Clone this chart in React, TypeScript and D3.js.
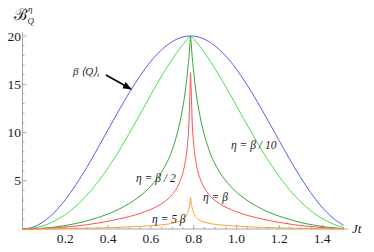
import React from "react";
import * as d3 from "d3";

// Jt sample positions (symmetric about pi/4)
const jt = [0, 0.05, 0.1, 0.15, 0.2, 0.25, 0.3, 0.35, 0.4, 0.45, 0.5, 0.55, 0.6, 0.65, 0.7, 0.735, 0.75, 0.76, 0.77, 0.778, 0.783, 0.785,
  0.788, 0.793, 0.801, 0.811, 0.821, 0.836, 0.871, 0.921, 0.971, 1.021, 1.071, 1.121, 1.171, 1.221, 1.271, 1.321, 1.371, 1.421, 1.471, 1.5];

const betaQ = [0, 0.20, 0.79, 1.75, 3.03, 4.60, 6.37, 8.30, 10.29, 12.27, 14.16, 15.88, 17.39, 18.57, 19.42, 19.80, 19.90, 19.95, 19.98, 20.0, 20.0, 20.0,
  20.0, 20.0, 19.98, 19.95, 19.90, 19.80, 19.42, 18.57, 17.39, 15.88, 14.16, 12.27, 10.29, 8.30, 6.37, 4.60, 3.03, 1.75, 0.79, 0.40];

const etaTenth = [0, 0.09, 0.36, 0.83, 1.49, 2.38, 3.48, 4.81, 6.35, 8.07, 9.96, 11.91, 13.93, 15.84, 17.60, 18.71, 19.13, 19.40, 19.66, 19.84, 19.95, 20.0,
  19.95, 19.84, 19.66, 19.40, 19.13, 18.71, 17.60, 15.84, 13.93, 11.91, 9.96, 8.07, 6.35, 4.81, 3.48, 2.38, 1.49, 0.83, 0.36, 0.18];

const etaHalf = [0, 0.02, 0.09, 0.20, 0.36, 0.57, 0.84, 1.17, 1.56, 2.05, 2.66, 3.43, 4.46, 5.91, 8.23, 11.01, 12.71, 14.19, 16.04, 17.88, 19.26, 20.0,
  19.26, 17.88, 16.04, 14.19, 12.71, 11.01, 8.23, 5.91, 4.46, 3.43, 2.66, 2.05, 1.56, 1.17, 0.84, 0.57, 0.36, 0.20, 0.09, 0.05];

const etaOne = [0, 0.01, 0.05, 0.11, 0.20, 0.31, 0.44, 0.61, 0.80, 1.03, 1.29, 1.62, 2.04, 2.62, 3.58, 4.89, 5.85, 6.89, 8.56, 11.1, 14.6, 16.2,
  14.6, 11.1, 8.56, 6.89, 5.85, 4.89, 3.58, 2.62, 2.04, 1.62, 1.29, 1.03, 0.80, 0.61, 0.44, 0.31, 0.20, 0.11, 0.05, 0.03];

const etaFive = [0, 0.0, 0.01, 0.02, 0.03, 0.05, 0.08, 0.10, 0.14, 0.17, 0.22, 0.27, 0.34, 0.43, 0.59, 0.82, 1.00, 1.21, 1.60, 2.20, 2.80, 3.30,
  2.80, 2.20, 1.60, 1.21, 1.00, 0.82, 0.59, 0.43, 0.34, 0.27, 0.22, 0.17, 0.14, 0.10, 0.08, 0.05, 0.03, 0.02, 0.01, 0.0];

const xTicks = [0.2, 0.4, 0.6, 0.8, 1.0, 1.2, 1.4];
const yTicks = [5, 10, 15, 20];

const series = [
  { values: betaQ, color: "#5a5af5" },
  { values: etaTenth, color: "#4be04b" },
  { values: etaHalf, color: "#36a836" },
  { values: etaOne, color: "#ff4f4f" },
  { values: etaFive, color: "#ffa333" },
];

const serif = { fontFamily: "Liberation Serif" };

export default function App() {
  const W = 374, H = 252;
  const x = d3.scaleLinear().domain([0, 1.5]).range([22.5, 343.5]);
  const y = d3.scaleLinear().domain([0, 20]).range([229, 36]);
  const line = (vals: number[]) =>
    d3.line<number>().x((_, i) => x(jt[i])).y((d) => y(d)).curve(d3.curveMonotoneX)(vals) || "";

  const xMinor = d3.range(0.05, 1.51, 0.05).filter((v) => Math.abs(Math.round(v * 5) - v * 5) > 1e-6);
  const yMinor = d3.range(1, 21, 1).filter((v) => v % 5 !== 0);
  const axisColor = "#a6a6a6";

  return (
    <svg width={W} height={H} style={{ position: "absolute", left: 0, top: 0, background: "#fff" }}>
      <defs>
        <marker id="ah" viewBox="0 0 10 10" refX="9" refY="5" markerWidth="6" markerHeight="6" orient="auto">
          <path d="M0,1 L10,5 L0,9 z" fill="#000" />
        </marker>
      </defs>
      {/* axes */}
      <line x1={x(0)} x2={x(1.52)} y1={y(0)} y2={y(0)} stroke={axisColor} strokeWidth={1} />
      <line x1={x(0)} x2={x(0)} y1={y(0)} y2={y(20.4)} stroke={axisColor} strokeWidth={1} />
      {xTicks.map((t) => (
        <g key={"xt" + t}>
          <line x1={x(t)} x2={x(t)} y1={y(0)} y2={y(0) - 4} stroke={axisColor} />
          <text x={x(t)} y={243} fontSize={13.5} textAnchor="middle" fill="#1a1a1a" style={serif}>{t.toFixed(1)}</text>
        </g>
      ))}
      {xMinor.map((t) => (
        <line key={"xm" + t} x1={x(t)} x2={x(t)} y1={y(0)} y2={y(0) - 2} stroke={axisColor} />
      ))}
      {yTicks.map((t) => (
        <g key={"yt" + t}>
          <line x1={x(0)} x2={x(0) + 4} y1={y(t)} y2={y(t)} stroke={axisColor} />
          <text x={21} y={y(t) + 4.5} fontSize={13.5} textAnchor="end" fill="#1a1a1a" style={serif}>{t}</text>
        </g>
      ))}
      {yMinor.map((t) => (
        <line key={"ym" + t} x1={x(0)} x2={x(0) + 2} y1={y(t)} y2={y(t)} stroke={axisColor} />
      ))}
      {/* curves */}
      {series.map((s, i) => (
        <path key={i} d={line(s.values)} fill="none" stroke={s.color} strokeWidth={1} />
      ))}
      {/* axis labels */}
      <text x={14} y={20} fontSize={16} fill="#1a1a1a" style={serif}>
        ℬ
        <tspan fontSize={9} fontStyle="italic" dx={1} dy={-8}>η</tspan>
        <tspan fontSize={9} fontStyle="italic" dx={-5} dy={12}>Q</tspan>
      </text>
      <text x={352} y={233} fontSize={13} fontStyle="italic" fill="#1a1a1a" style={serif}>Jt</text>
      {/* annotation */}
      <text x={73} y={75} fontSize={11} fontStyle="italic" fill="#1a1a1a" style={serif}>
        β ⟨Q⟩<tspan fontSize={7} dy={2}>t</tspan>
      </text>
      <line x1={106} y1={75} x2={131} y2={89} stroke="#000" strokeWidth={1.5} markerEnd="url(#ah)" />
      <text x={231} y={149} fontSize={11.5} fontStyle="italic" fill="#1a1a1a" style={serif}>η = β / 10</text>
      <text x={136} y={182} fontSize={11.5} fontStyle="italic" fill="#1a1a1a" style={serif}>η = β / 2</text>
      <text x={203} y={201} fontSize={11.5} fontStyle="italic" fill="#1a1a1a" style={serif}>η = β</text>
      <text x={152} y={223} fontSize={11.5} fontStyle="italic" fill="#1a1a1a" style={serif}>η = 5 β</text>
    </svg>
  );
}
